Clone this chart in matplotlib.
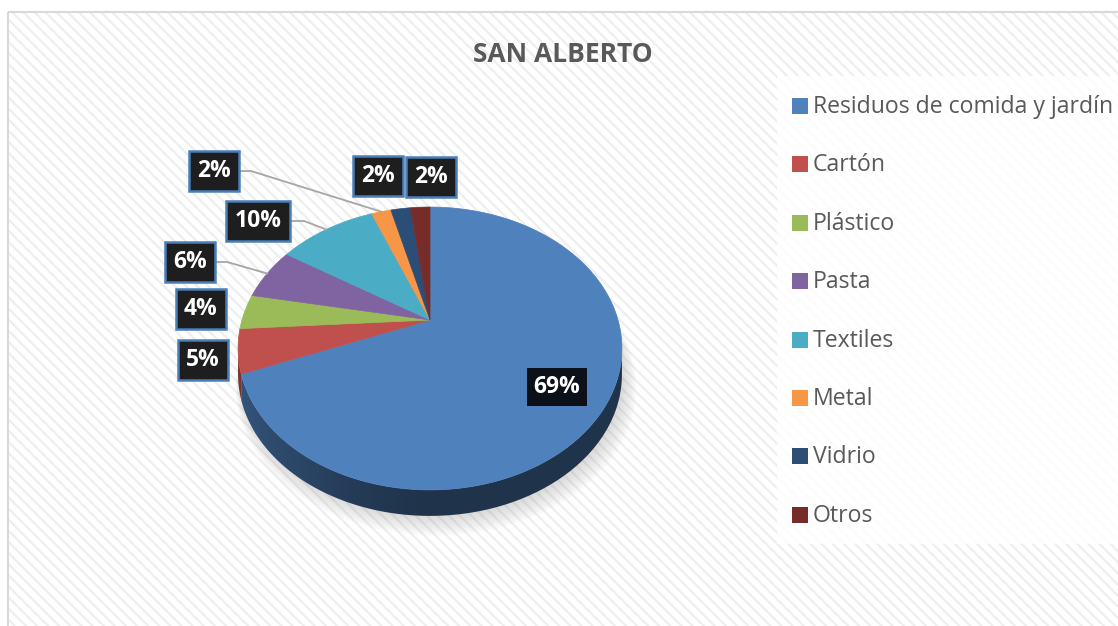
import numpy as np
import matplotlib.pyplot as plt
from matplotlib.patches import Rectangle, Polygon
from matplotlib.colors import to_rgb

plt.rcParams['font.family'] = ['Open Sans', 'DejaVu Sans']
plt.rcParams['hatch.linewidth'] = 1.6

categories = ['Residuos de comida y jardín', 'Cartón', 'Plástico', 'Pasta',
              'Textiles', 'Metal', 'Vidrio', 'Otros']
values = [69, 5, 4, 6, 10, 2, 2, 2]
colors = ['#4F81BD', '#C0504D', '#9BBB59', '#8064A2',
          '#4BACC6', '#F79646', '#2C4D75', '#772C2A']

# label layout (pixel positions of the data label boxes)
label_pos = [(557, 387), (203, 360), (201, 309), (190, 262),
             (258, 221), (214, 171), (378, 176), (431, 177)]
has_leader = [False, False, False, True, True, True, False, False]

W, H = 1118, 626
fig = plt.figure(figsize=(W / 100, H / 100), dpi=100)
ax = fig.add_axes([0, 0, 1, 1])
ax.set_xlim(0, W)
ax.set_ylim(H, 0)
ax.axis('off')

# chart area background with faint diagonal stripes
ax.add_patch(Rectangle((7.5, 11.5), W, H, facecolor='white', edgecolor='#eeeeee',
                       linewidth=0, hatch='\\\\\\', zorder=0))
ax.add_patch(Rectangle((7.5, 11.5), W, H, facecolor='none', edgecolor='#d9d9d9',
                       linewidth=1.5, zorder=0.5))

# perspective pie geometry
CX, CY = 430, 320
A, B, P = 188, 135.7, 0.2013
DEPTH = 26


def proj(theta, r=1.0, dz=0.0):
    u = r * np.sin(theta)
    v = -r * np.cos(theta)
    w = 1 / (1 - P * v)
    return CX + A * u * w, CY + B * v * w + dz


frac = np.array(values) / np.sum(values)
edges = np.concatenate([[0], np.cumsum(frac)]) * 2 * np.pi

# soft shadow
t_all = np.linspace(0, 2 * np.pi, 300)
for k in range(8):
    sx, sy = proj(t_all, r=1.0 + 0.006 * k, dz=DEPTH + 2 + 1.2 * k)
    ax.fill(sx + 2 + k * 0.6, sy, color='#808080', alpha=0.035, lw=0, zorder=1)

# visible side of the pie (front rim), shaded with a horizontal gradient
vis_a = np.arccos(-P)
vis_b = 2 * np.pi - vis_a
gx = np.linspace(CX - A * 1.05, CX + A * 1.05, 400)
gu = np.clip((gx - CX) / A, -1, 1)
gf = 0.40 + 0.24 * np.clip(-gu, 0, None) ** 1.5
for i in range(len(values)):
    a0, a1 = max(edges[i], vis_a), min(edges[i + 1], vis_b)
    if a1 <= a0:
        continue
    ts = np.linspace(a0, a1, max(2, int((a1 - a0) * 80)))
    xs, ys = proj(ts)
    pts = list(zip(xs, ys)) + list(zip(xs[::-1], ys[::-1] + DEPTH))
    poly = Polygon(pts, closed=True, facecolor='none', edgecolor='none', zorder=2)
    ax.add_patch(poly)
    img = np.array(to_rgb(colors[i]))[None, None, :] * gf[None, :, None]
    im = ax.imshow(img, extent=(gx[0], gx[-1], CY + B * 1.4 + DEPTH, CY - 10),
                   aspect='auto', interpolation='bilinear', zorder=2)
    im.set_clip_path(poly)
ax.set_xlim(0, W)
ax.set_ylim(H, 0)

# top faces
for i in range(len(values)):
    ts = np.linspace(edges[i], edges[i + 1], max(3, int((edges[i + 1] - edges[i]) * 60)))
    xs, ys = proj(ts)
    pts = [(CX, CY)] + list(zip(xs, ys))
    ax.add_patch(Polygon(pts, closed=True, facecolor=colors[i], edgecolor=colors[i],
                         lw=0.5, zorder=3))

# data labels
for i, v in enumerate(values):
    txt = f'{v}%'
    lx, ly = label_pos[i]
    if has_leader[i]:
        mid = (edges[i] + edges[i + 1]) / 2
        px, py = proj(mid)
        ex = lx + 9 * len(txt) + 19
        ax.plot([lx, ex, px], [ly, ly, py], color='#a6a6a6', lw=1.3, zorder=4)
    if i == 0:
        box = dict(boxstyle='square,pad=0.3', fc='#0c1119', ec='none')
    else:
        box = dict(boxstyle='square,pad=0.36', fc='#1e1e1e', ec='#4a7ebb', lw=1.8)
    ax.text(lx, ly, txt, ha='center', va='center', color='white', fontsize=16.5,
            fontweight='bold', bbox=box, zorder=5)

# title
ax.text(563, 54, 'SAN ALBERTO', ha='center', va='center', fontsize=19,
        fontweight='bold', color='#595959', zorder=5)

# legend
ax.add_patch(Rectangle((777, 76), W - 777, 468, facecolor='white', edgecolor='none',
                       alpha=0.85, zorder=4))
for i, name in enumerate(categories):
    yy = 106 + 58.4 * i
    ax.add_patch(Rectangle((792, yy - 8), 16, 16, facecolor=colors[i], edgecolor='none', zorder=5))
    ax.text(813, yy + 1, name, ha='left', va='center', fontsize=16.6, color='#595959', zorder=5)

fig.savefig('out.png', dpi=100)
